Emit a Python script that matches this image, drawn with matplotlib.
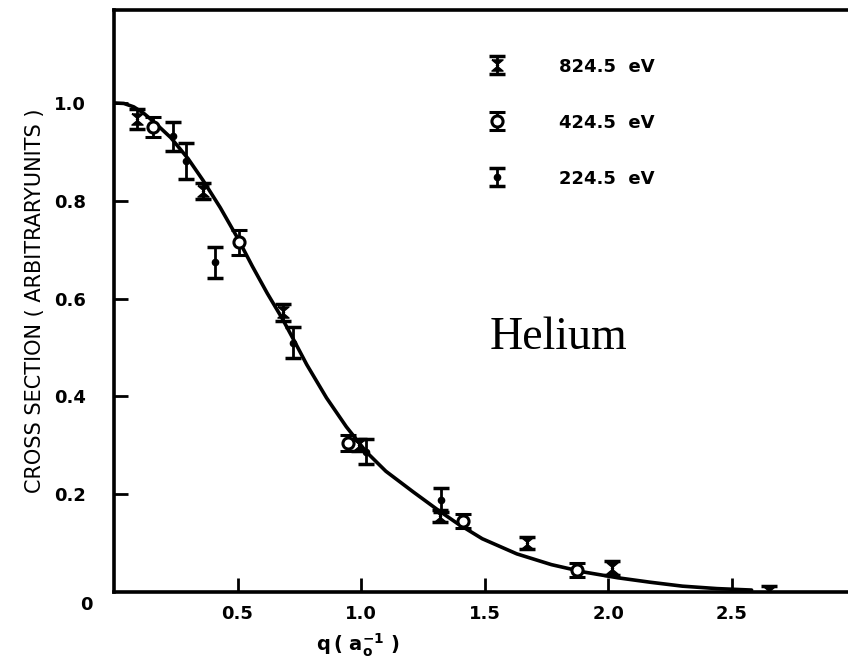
import numpy as np
import matplotlib.pyplot as plt
from matplotlib.lines import Line2D

# smooth theory curve
curve_q = [0.0, 0.04, 0.08, 0.12, 0.16, 0.23, 0.30, 0.36, 0.43, 0.50, 0.56, 0.62, 0.68,
           0.73, 0.78, 0.86, 0.94, 1.02, 1.10, 1.21, 1.31, 1.39, 1.49, 1.63, 1.77, 1.90,
           2.04, 2.17, 2.30, 2.44, 2.58]
curve_y = [1.0, 0.999, 0.992, 0.979, 0.962, 0.929, 0.886, 0.842, 0.786, 0.724, 0.666,
           0.611, 0.560, 0.513, 0.465, 0.397, 0.338, 0.287, 0.247, 0.205, 0.168, 0.140,
           0.109, 0.078, 0.056, 0.041, 0.029, 0.020, 0.012, 0.007, 0.004]

# 824.5 eV
q_824 = [0.093, 0.36, 0.684, 0.99, 1.32, 1.672, 2.016, 2.65]
y_824 = [0.967, 0.82, 0.572, 0.30, 0.156, 0.10, 0.049, 0.0]
e_824 = [0.02, 0.017, 0.017, 0.012, 0.012, 0.012, 0.015, 0.012]

# 424.5 eV
q_424 = [0.158, 0.506, 0.947, 1.413, 1.874]
y_424 = [0.951, 0.715, 0.305, 0.145, 0.045]
e_424 = [0.02, 0.025, 0.017, 0.015, 0.015]

# 224.5 eV
q_224 = [0.24, 0.29, 0.409, 0.725, 1.02, 1.324]
y_224 = [0.932, 0.881, 0.674, 0.51, 0.287, 0.188]
e_224 = [0.03, 0.037, 0.032, 0.032, 0.025, 0.025]

xticks = [0.5, 1.0, 1.5, 2.0, 2.5]
yticks = [0.2, 0.4, 0.6, 0.8, 1.0]

bowtie = [(-1, 1), (1, 1), (-0.2, 0), (1, -1), (-1, -1), (0.2, 0), (-1, 1)]

plt.rcParams['mathtext.default'] = 'bf'

fig = plt.figure(figsize=(8.48, 6.64), dpi=100)
ax = fig.add_axes([0.1344, 0.1084, 0.8656, 0.8765])

ax.plot(curve_q, curve_y, color='black', lw=2.6, zorder=2,
        solid_joinstyle='round', solid_capstyle='round')

h1 = ax.errorbar(q_824, y_824, yerr=e_824, fmt='none', ecolor='black',
                 elinewidth=2, capsize=6, capthick=2.5, zorder=3)
ax.plot(q_824, y_824, ls='none', marker=bowtie, ms=8, color='black', zorder=4)
h2 = ax.errorbar(q_424, y_424, yerr=e_424, fmt='o', ms=8, mfc='white', mec='black',
                 mew=2.2, ecolor='black', elinewidth=2, capsize=6, capthick=2.5, zorder=4)
h3 = ax.errorbar(q_224, y_224, yerr=e_224, fmt='o', ms=4.5, color='black',
                 elinewidth=2, capsize=6, capthick=2.5, zorder=4)

leg1 = Line2D([], [], ls='none', marker=bowtie, ms=8, color='black')
handles = [(h1, leg1), h2, h3]
ax.legend(handles, ['824.5  eV', '424.5  eV', '224.5  eV'], loc='upper left',
          bbox_to_anchor=(0.49, 0.946), frameon=False, handlelength=0.8,
          handletextpad=3.0, labelspacing=2.1,
          prop={'weight': 'bold', 'size': 13})

ax.text(1.52, 0.496, 'Helium', family='Liberation Serif', fontsize=33)

ax.set_xlim(0, 2.97)
ax.set_ylim(0, 1.19)
ax.set_xticks(xticks)
ax.set_xticklabels(['0.5', '1.0', '1.5', '2.0', '2.5'])
ax.set_yticks(yticks)
ax.set_yticklabels(['0.2', '0.4', '0.6', '0.8', '1.0'])
for lab in ax.get_xticklabels() + ax.get_yticklabels():
    lab.set_fontweight('bold')
    lab.set_fontsize(13)
ax.tick_params(direction='in', length=10, width=2)
ax.tick_params(axis='x', pad=9)
ax.tick_params(axis='y', pad=20)
ax.text(-0.029, -0.007, '0', transform=ax.transAxes, ha='right', va='top',
        fontsize=13, fontweight='bold')

for s in ['left', 'bottom', 'top']:
    ax.spines[s].set_linewidth(2.6)
ax.spines['right'].set_visible(False)

ax.set_xlabel(r'q$\,$( a$_{o}^{-1}$ )', fontsize=14, fontweight='bold')
ax.xaxis.set_label_coords(0.332, -0.068)
ax.set_ylabel('CROSS SECTION ( ARBITRARYUNITS )', fontsize=15)
ax.yaxis.set_label_coords(-0.094, 0.50)

fig.savefig('out.png', dpi=100)
